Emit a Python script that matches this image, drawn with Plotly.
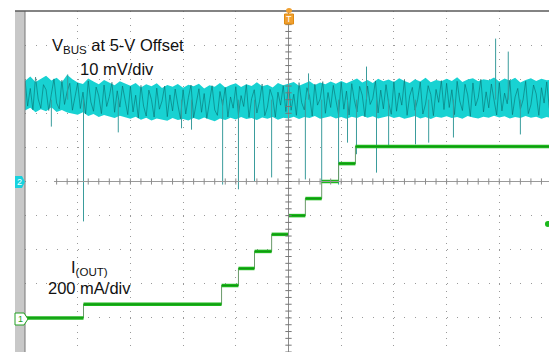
import plotly.graph_objects as go

# ---------------- data (time in scope divisions relative to trigger) ----------------
env_t = [round(-5 + 0.1 * i, 1) for i in range(101)]

# VBUS (mV above the 5-V offset), upper / lower envelope of the noisy trace
vbus_hi = [29.5, 30.8, 29.2, 30.1, 31.0, 29.6, 30.4, 29.1, 31.3, 30.0,
           29.0, 28.6, 30.2, 29.3, 28.5, 29.8, 28.9, 28.2, 29.4, 28.7,
           28.1, 28.9, 27.6, 28.5, 27.9, 28.8, 27.4, 28.3, 27.8, 28.6,
           27.5, 28.4, 27.9, 28.7, 27.3, 28.2, 27.8, 28.9, 27.6, 28.3,
           28.8, 27.7, 28.5, 28.0, 29.1, 27.9, 28.4, 27.6, 28.9, 28.2,
           28.6, 29.2, 28.1, 28.8, 29.4, 28.3, 29.0, 28.5, 29.3, 28.7,
           29.5, 28.8, 29.6, 30.2, 29.0, 29.8, 28.9, 30.1, 29.4, 29.9,
           29.2, 30.3, 29.5, 28.9, 30.0, 29.3, 30.4, 29.1, 29.8, 29.4,
           30.1, 29.5, 30.6, 29.2, 29.9, 30.3, 29.4, 30.0, 29.7, 30.5,
           29.3, 30.2, 29.6, 30.4, 29.0, 29.8, 30.3, 29.5, 30.1, 29.7, 29.9]
vbus_lo = [20.8, 21.6, 20.3, 21.2, 20.6, 21.8, 20.4, 21.0, 20.2, 19.9,
           19.6, 20.3, 19.2, 19.8, 18.9, 19.5, 19.0, 18.6, 19.3, 18.8,
           18.4, 19.0, 18.1, 18.7, 17.9, 18.5, 18.2, 17.8, 18.6, 18.0,
           18.3, 17.9, 18.6, 18.1, 18.8, 18.2, 17.7, 18.5, 18.0, 18.7,
           18.2, 18.9, 18.3, 18.6, 18.0, 18.8, 18.4, 18.9, 18.1, 18.7,
           18.5, 19.0, 18.3, 18.9, 18.6, 19.2, 18.4, 18.8, 19.1, 18.5,
           18.9, 18.4, 19.0, 18.6, 19.3, 18.7, 19.1, 18.5, 18.9, 19.2,
           18.6, 19.0, 18.4, 18.8, 19.2, 18.5, 18.9, 18.3, 19.0, 18.7,
           19.1, 18.6, 18.9, 18.4, 19.2, 18.8, 18.5, 19.0, 18.7, 19.3,
           18.8, 19.1, 18.5, 18.9, 18.6, 19.2, 18.7, 19.0, 18.4, 18.9, 18.6]

# VBUS trace samples (mV above 5 V), every 0.05 div, estimated from the noisy trace
trace_t = [round(-5 + 0.05 * i, 2) for i in range(200)]
vbus_trace = [
    29.8, 22.1, 27.3, 21.0, 30.6, 24.2, 21.5, 28.4, 26.9, 20.8, 25.6, 30.1, 23.0, 21.3, 29.7, 22.6, 26.4, 28.8, 20.9, 24.7,
    28.9, 21.4, 26.2, 19.8, 29.5, 23.3, 20.6, 27.7, 25.1, 19.9, 28.3, 22.0, 24.9, 29.1, 20.3, 26.6, 21.8, 28.0, 23.7, 19.6,
    27.9, 20.4, 25.3, 18.6, 28.2, 22.1, 19.2, 26.8, 24.0, 18.9, 27.4, 21.2, 23.6, 28.0, 19.0, 25.4, 20.7, 27.1, 22.5, 18.4,
    26.9, 19.8, 24.6, 28.3, 18.7, 22.9, 27.2, 20.3, 25.8, 18.5, 23.7, 28.1, 21.0, 19.4, 26.4, 22.3, 27.6, 18.9, 24.8, 21.5,
    27.8, 19.6, 25.2, 22.0, 28.4, 18.8, 24.3, 26.9, 20.1, 23.5, 28.6, 19.3, 21.8, 27.0, 24.6, 18.9, 26.2, 22.4, 28.1, 20.5,
    28.3, 20.9, 25.6, 19.4, 29.0, 23.1, 21.0, 27.5, 25.0, 19.2, 28.6, 22.4, 24.2, 29.3, 20.0, 26.1, 21.7, 28.2, 23.8, 19.6,
    29.1, 21.2, 26.5, 19.5, 28.7, 23.8, 20.4, 27.9, 25.3, 19.0, 28.0, 22.6, 24.4, 29.5, 20.1, 26.8, 21.3, 28.4, 23.0, 19.7,
    29.3, 20.6, 26.0, 22.4, 29.8, 19.4, 25.1, 27.6, 20.9, 24.0, 29.2, 19.8, 22.7, 28.1, 25.5, 19.3, 27.0, 23.2, 29.6, 21.1,
    28.8, 21.7, 26.9, 19.6, 29.4, 23.6, 20.8, 28.5, 25.4, 19.1, 28.9, 22.2, 24.6, 30.0, 20.4, 26.3, 21.6, 28.6, 23.9, 19.5,
    29.0, 20.7, 25.9, 22.8, 29.7, 19.6, 24.8, 27.3, 21.2, 23.9, 29.4, 19.9, 22.5, 28.3, 25.7, 19.4, 27.5, 23.0, 29.2, 21.4]
band_mid = 24.0

# transient glitches on VBUS: time and tip value (mV)
spike_t = [-4.50, -3.89, -3.23, -2.03, -1.84, -1.25, -0.95, -0.645, -0.32,
           0.32, 0.63, 0.95, 1.12, 1.29, 1.67, 1.90, 2.41, 2.66, 3.13, 4.40,
           -4.19, 0.38, 1.48, 3.93, 4.17]
spike_tip = [16.1, -11.7, 14.4, 15.6, 15.2, -0.9, -2.3, 0.0, 1.2,
             0.6, -0.3, -0.9, 11.4, 8.0, 2.6, 10.3, 10.9, 11.4, 12.9, 13.8,
             31.4, 31.7, 33.7, 41.9, 38.1]

# I(OUT) load steps (mA)
step_t = [-5.0, -3.89, -1.27, -0.95, -0.645, -0.32, 0.0, 0.32, 0.63, 0.95, 1.27]
step_ma = [0, 80, 190, 290, 390, 490, 600, 700, 800, 905, 1005]
t_end = 4.95
trig_level_ma = 551

# ---------------- geometry helpers (pixels -> paper) ----------------
W, H = 549, 352
L, T = 25, 11
PW, PH = W - L, H - T
DIVX = 52.7
X_RANGE = [-5, -5 + PW / DIVX]


def px(x):
    return (x - L) / PW


def py(y):
    return (H - y) / PH


fig = go.Figure()

# VBUS band
fig.add_trace(go.Scatter(
    x=env_t + env_t[::-1], y=vbus_hi + vbus_lo[::-1],
    fill="toself", fillcolor="#18d2d2", line=dict(width=0),
    mode="lines", hoverinfo="skip", showlegend=False))
fig.add_trace(go.Scatter(x=trace_t, y=vbus_trace, mode="lines",
                         line=dict(color="#086666", width=0.8),
                         opacity=0.7, hoverinfo="skip", showlegend=False))

sx, sy = [], []
for t, tip in zip(spike_t, spike_tip):
    sx += [t, t, None]
    sy += [band_mid, tip, None]
fig.add_trace(go.Scatter(x=sx, y=sy, mode="lines",
                         line=dict(color="#3a9c9c", width=1),
                         hoverinfo="skip", showlegend=False))

# I(OUT) steps on a second y axis (200 mA/div)
gx = step_t + [t_end]
gy = step_ma + [step_ma[-1]]
fig.add_trace(go.Scatter(x=gx, y=gy, yaxis="y2", mode="lines",
                         line=dict(color="#6a9a6a", width=1, shape="hv"),
                         hoverinfo="skip", showlegend=False))
hx, hy = [], []
for i, v in enumerate(step_ma):
    t1 = step_t[i + 1] if i + 1 < len(step_t) else t_end
    hx += [step_t[i], t1, None]
    hy += [v, v, None]
fig.add_trace(go.Scatter(x=hx, y=hy, yaxis="y2", mode="lines",
                         line=dict(color="#1cb81c", width=3.5),
                         hoverinfo="skip", showlegend=False))
fig.add_trace(go.Scatter(x=hx, y=hy, yaxis="y2", mode="lines",
                         line=dict(color="#0d7d0d", width=1),
                         opacity=0.6, hoverinfo="skip", showlegend=False))
fig.add_trace(go.Scatter(x=[X_RANGE[1] - 0.02], y=[trig_level_ma], yaxis="y2",
                         mode="markers", marker=dict(color="#1cb81c", size=6),
                         hoverinfo="skip", showlegend=False))

# ---------------- scope furniture ----------------
shapes = []
shapes.append(dict(type="rect", xref="paper", yref="paper",
                   x0=px(15), x1=px(25), y0=0, y1=1,
                   fillcolor="#c8c8c8", line=dict(width=0), layer="above"))
shapes.append(dict(type="line", xref="paper", yref="paper",
                   x0=px(25), x1=px(25), y0=0, y1=1,
                   line=dict(color="#777777", width=1)))
shapes.append(dict(type="line", xref="paper", yref="paper",
                   x0=px(15), x1=1, y0=1, y1=1,
                   line=dict(color="#5a5a5a", width=1.5)))
shapes.append(dict(type="line", xref="x", yref="paper",
                   x0=0, x1=0, y0=0, y1=1,
                   line=dict(color="#8c8c8c", width=1)))
shapes.append(dict(type="line", xref="x", yref="y",
                   x0=-4.45, x1=X_RANGE[1], y0=0, y1=0,
                   line=dict(color="#9a9a9a", width=1)))
k = 0
while -4.4 + 0.2 * k <= X_RANGE[1]:
    t = -4.4 + 0.2 * k
    shapes.append(dict(type="line", xref="x", yref="y", x0=t, x1=t,
                       y0=-0.9, y1=0.9, line=dict(color="#8c8c8c", width=1)))
    k += 1
for k in range(-25, 26):
    v = 2 * k
    shapes.append(dict(type="line", xref="x", yref="y", x0=-0.06, x1=0.06,
                       y0=v, y1=v, line=dict(color="#777777", width=1)))

# channel 2 marker
shapes.append(dict(type="path", xref="paper", yref="paper",
                   path=f"M{px(15)},{py(176)} L{px(22)},{py(176)} L{px(25)},{py(182)} "
                        f"L{px(22)},{py(188)} L{px(15)},{py(188)} Z",
                   fillcolor="#18d2de", line=dict(width=0), layer="above"))
# channel 1 marker
shapes.append(dict(type="path", xref="paper", yref="paper",
                   path=f"M{px(15)},{py(313)} L{px(24)},{py(313)} L{px(28)},{py(319)} "
                        f"L{px(24)},{py(325)} L{px(15)},{py(325)} Z",
                   fillcolor="white", line=dict(color="#22a022", width=1), layer="above"))
# trigger marker
shapes.append(dict(type="rect", xref="paper", yref="paper",
                   x0=px(284.5), x1=px(293.5), y0=py(24), y1=py(14),
                   fillcolor="#f0a030", line=dict(color="#e08a10", width=1), layer="above"))
shapes.append(dict(type="circle", xref="paper", yref="paper",
                   x0=px(286), x1=px(292), y0=py(13), y1=py(8),
                   fillcolor="#f0a030", line=dict(width=0), layer="above"))

font = dict(family="Liberation Sans, Arial", size=16.5, color="#111111")
mfont = "Liberation Sans, Arial"
annotations = [
    dict(x=px(118), y=py(46), xref="paper", yref="paper",
         text="V<sub>BUS</sub> at 5-V Offset", showarrow=False, font=font,
         xanchor="center", yanchor="middle"),
    dict(x=px(117), y=py(69), xref="paper", yref="paper",
         text="10 mV/div", showarrow=False, font=font,
         xanchor="center", yanchor="middle"),
    dict(x=px(89), y=py(268), xref="paper", yref="paper",
         text="I<sub>(OUT)</sub>", showarrow=False, font=font,
         xanchor="center", yanchor="middle"),
    dict(x=px(89), y=py(288), xref="paper", yref="paper",
         text="200 mA/div", showarrow=False, font=font,
         xanchor="center", yanchor="middle"),
    dict(x=px(19.5), y=py(182), xref="paper", yref="paper", text="2",
         showarrow=False, xanchor="center", yanchor="middle",
         font=dict(family=mfont, size=9, color="white")),
    dict(x=px(20), y=py(319), xref="paper", yref="paper", text="1",
         showarrow=False, xanchor="center", yanchor="middle",
         font=dict(family=mfont, size=9, color="#22a022")),
    dict(x=px(289), y=py(19), xref="paper", yref="paper", text="T",
         showarrow=False, xanchor="center", yanchor="middle",
         font=dict(family=mfont, size=9, color="white")),
]

fig.update_layout(
    width=W, height=H,
    margin=dict(l=L, r=0, t=T, b=0, pad=0),
    paper_bgcolor="white", plot_bgcolor="white",
    showlegend=False,
    xaxis=dict(range=X_RANGE, dtick=1, tick0=0, showgrid=True,
               gridcolor="#9a9a9a", gridwidth=1, griddash="1px,5.82px",
               zeroline=False, showticklabels=False, ticks="", showline=False,
               fixedrange=True),
    yaxis=dict(range=[-50, 50], dtick=10, tick0=0, showgrid=True,
               gridcolor="#9a9a9a", gridwidth=1, griddash="1px,9.54px",
               zeroline=False, showticklabels=False, ticks="", showline=False,
               fixedrange=True),
    yaxis2=dict(range=[-200, 1800], overlaying="y", visible=False,
                showgrid=False, zeroline=False, fixedrange=True),
    shapes=shapes, annotations=annotations,
)

fig.write_html("out.html", config={"displayModeBar": False, "staticPlot": True},
               post_script="document.body.style.margin='0px';"
                           "document.body.style.overflow='hidden';")
